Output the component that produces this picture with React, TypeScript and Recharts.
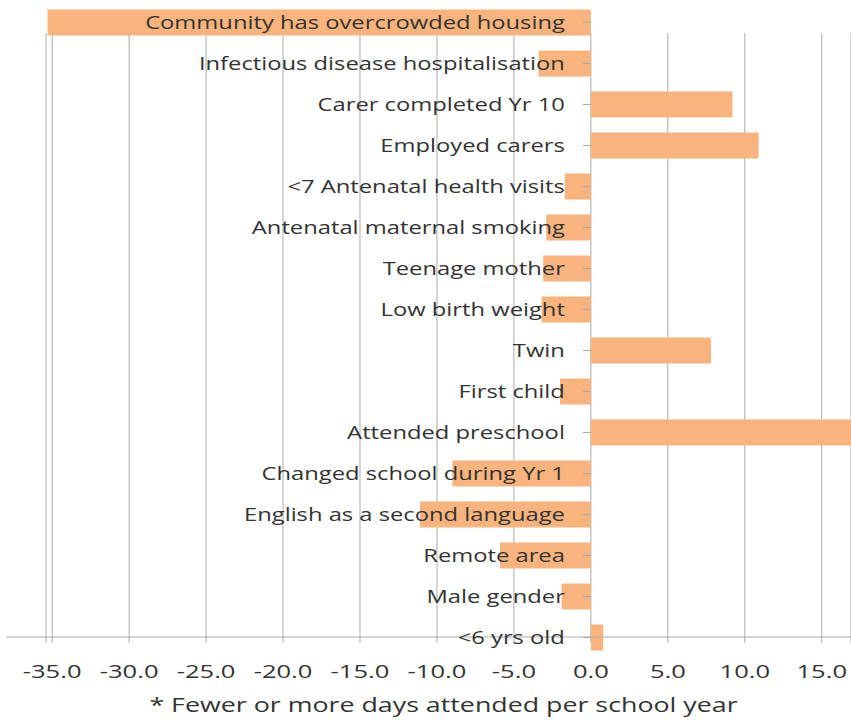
import React from 'react';
import { BarChart, Bar, XAxis, YAxis, CartesianGrid, ReferenceLine, LabelList } from 'recharts';

const categories = [
  'Community has overcrowded housing',
  'Infectious disease hospitalisation',
  'Carer completed Yr 10',
  'Employed carers',
  '<7 Antenatal health visits',
  'Antenatal maternal smoking',
  'Teenage mother',
  'Low birth weight',
  'Twin',
  'First child',
  'Attended preschool',
  'Changed school during Yr 1',
  'English as a second language',
  'Remote area',
  'Male gender',
  '<6 yrs old',
];

const values = [-35.3, -3.4, 9.2, 10.9, -1.7, -2.9, -3.1, -3.2, 7.8, -2.0, 18.0, -9.0, -11.1, -5.9, -1.9, 0.8];

const xTicks = [-35, -30, -25, -20, -15, -10, -5, 0, 5, 10, 15];
const axisTitle = '* Fewer or more days attended per school year';

const data = categories.map((name, i) => ({ name, value: values[i] }));

const FONT = '"Open Sans", sans-serif';
const TEXT = '#333333';
const GRID = '#ababab';

const CatLabel = (props: any) => {
  const vb = props.viewBox || {};
  const x = Number(vb.x ?? props.x);
  const y = Number(vb.y ?? props.y);
  const w = Number(vb.width ?? props.width);
  const h = Number(vb.height ?? props.height);
  const v = values[props.index];
  const zero = v < 0 ? Math.max(x, x + w) : Math.min(x, x + w);
  const cy = y + h / 2;
  return (
    <g>
      <line x1={zero - 8} x2={zero} y1={cy} y2={cy} stroke={GRID} strokeWidth={1} />
      <g transform={`translate(${zero - 26},${cy}) scale(1.25,1)`}>
        <text x={0} y={0} dy="0.35em" textAnchor="end" fontSize={19} fontFamily={FONT} fill={TEXT}>
          {props.value}
        </text>
      </g>
    </g>
  );
};

const XTick = (props: any) => {
  const { x, y, payload } = props;
  return (
    <g transform={`translate(${x},${y}) scale(1.42,1)`}>
      <text x={0} y={0} dy="0.71em" textAnchor="middle" fontSize={18} fontFamily={FONT} fill={TEXT}>
        {Number(payload.value).toFixed(1)}
      </text>
    </g>
  );
};

const AxisTitle = (props: any) => {
  const vb = props.viewBox || {};
  const cx = Number(vb.x) + Number(vb.width) / 2 - 5;
  const by = Number(vb.y) + Number(vb.height) + 4;
  return (
    <g transform={`translate(${cx},${by}) scale(1.34,1)`}>
      <text x={0} y={0} textAnchor="middle" fontSize={20} fontFamily={FONT} fill={TEXT}>
        {axisTitle}
      </text>
    </g>
  );
};

export default function App() {
  return (
    <div style={{ position: 'absolute', left: 0, top: 0, width: 851, height: 721, background: '#fff' }}>
      <BarChart
        width={851}
        height={721}
        layout="vertical"
        data={data}
        margin={{ top: 1.5, right: 0, bottom: 13.5, left: 46 }}
      >
        <CartesianGrid horizontal={false} vertical={true} stroke={GRID} y={33} height={610} />
        <XAxis
          type="number"
          domain={[-35.4, 16.9]}
          allowDataOverflow
          ticks={xTicks}
          interval={0}
          axisLine={false}
          tickLine={false}
          height={50}
          tick={<XTick />}
          label={<AxisTitle />}
        />
        <YAxis type="category" dataKey="name" hide />
        <Bar dataKey="value" fill="#F8B47C" barSize={26} isAnimationActive={false}>
          <LabelList dataKey="name" content={CatLabel} />
        </Bar>
        <ReferenceLine
          segment={[
            { x: -38, y: categories[15] },
            { x: 16.9, y: categories[15] },
          ]}
          stroke={GRID}
          ifOverflow="visible"
        />
      </BarChart>
    </div>
  );
}
